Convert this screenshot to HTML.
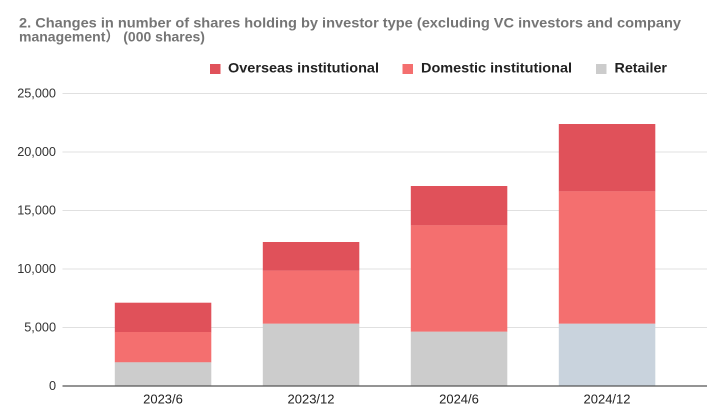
<!DOCTYPE html>
<html>
<head>
<meta charset="utf-8">
<style>
html,body{margin:0;padding:0;background:#fff;}
svg{display:block;}
text{font-family:"Liberation Sans","Noto Sans CJK JP",Arial,sans-serif;}
</style>
</head>
<body>
<svg width="725" height="420" viewBox="0 0 725 420" xmlns="http://www.w3.org/2000/svg">
<rect width="725" height="420" fill="#fff"/>
<!-- Title -->
<text x="19" y="27.5" font-size="14" font-weight="bold" fill="#757575" textLength="662" lengthAdjust="spacingAndGlyphs">2. Changes in number of shares holding by investor type (excluding VC investors and company</text>
<text x="19" y="41.5" font-size="14" font-weight="bold" fill="#757575">management<tspan font-family="'Noto Sans CJK JP',sans-serif">）</tspan> (000 shares)</text>

<!-- Legend -->
<rect x="210" y="64" width="10.5" height="10" fill="#e0515a"/>
<text x="228" y="72.5" font-size="14" font-weight="bold" fill="#222" textLength="151" lengthAdjust="spacingAndGlyphs">Overseas institutional</text>
<rect x="402.5" y="64" width="10.5" height="10" fill="#f46f6f"/>
<text x="421" y="72.5" font-size="14" font-weight="bold" fill="#222" textLength="151" lengthAdjust="spacingAndGlyphs">Domestic institutional</text>
<rect x="596" y="64" width="10.5" height="10" fill="#cccccc"/>
<text x="614.5" y="72.5" font-size="14" font-weight="bold" fill="#222" textLength="52.5" lengthAdjust="spacingAndGlyphs">Retailer</text>

<!-- Gridlines -->
<g stroke="#e0e0e0" stroke-width="1">
<line x1="62.5" y1="93.5" x2="707" y2="93.5"/>
<line x1="62.5" y1="152" x2="707" y2="152"/>
<line x1="62.5" y1="210.5" x2="707" y2="210.5"/>
<line x1="62.5" y1="269" x2="707" y2="269"/>
<line x1="62.5" y1="327.5" x2="707" y2="327.5"/>
</g>

<!-- Y labels -->
<g font-size="12.7" fill="#333" text-anchor="end">
<text x="56" y="97.7">25,000</text>
<text x="56" y="156.2">20,000</text>
<text x="56" y="214.7">15,000</text>
<text x="56" y="273.2">10,000</text>
<text x="56" y="331.7">5,000</text>
<text x="56" y="390.2">0</text>
</g>

<!-- Bars -->
<!-- 2023/6 -->
<rect x="114.8" y="302.7" width="96.5" height="29.5" fill="#e0515a"/>
<rect x="114.8" y="332" width="96.5" height="30.4" fill="#f46f6f"/>
<rect x="114.8" y="362.3" width="96.5" height="23.7" fill="#cccccc"/>
<!-- 2023/12 -->
<rect x="262.8" y="242" width="96.5" height="28.8" fill="#e0515a"/>
<rect x="262.8" y="270.7" width="96.5" height="53.1" fill="#f46f6f"/>
<rect x="262.8" y="323.7" width="96.5" height="62.3" fill="#cccccc"/>
<!-- 2024/6 -->
<rect x="410.8" y="186" width="96.5" height="39.4" fill="#e0515a"/>
<rect x="410.8" y="225.3" width="96.5" height="106.5" fill="#f46f6f"/>
<rect x="410.8" y="331.7" width="96.5" height="54.3" fill="#cccccc"/>
<!-- 2024/12 -->
<rect x="558.8" y="124" width="96.5" height="67.4" fill="#e0515a"/>
<rect x="558.8" y="191.3" width="96.5" height="132.5" fill="#f46f6f"/>
<rect x="558.8" y="323.7" width="96.5" height="62.3" fill="#c9d3dd"/>

<!-- Baseline -->
<line x1="62.5" y1="386" x2="707" y2="386" stroke="#555" stroke-width="1.2"/>

<!-- X labels -->
<g font-size="13" fill="#222" text-anchor="middle">
<text x="163" y="403.5">2023/6</text>
<text x="311" y="403.5">2023/12</text>
<text x="459" y="403.5">2024/6</text>
<text x="607" y="403.5">2024/12</text>
</g>
</svg>
</body>
</html>
